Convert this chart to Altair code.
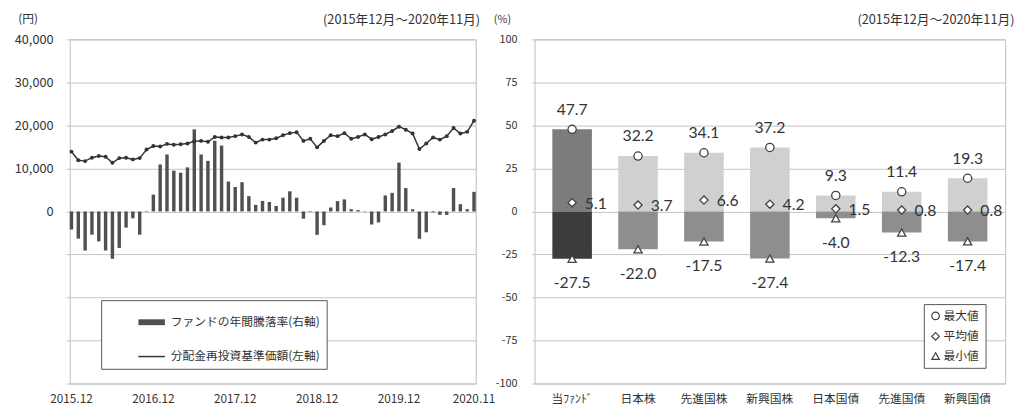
import altair as alt
import pandas as pd

FONT = "Noto Sans CJK JP"
NUMFONT = "Lato"
TXT = "#333333"
GRID = "#c4c4c4"

# ---------------- left panel data ----------------
months = ["2015.12"] + [f"{2016 + k // 12}.{k % 12 + 1:02d}" for k in range(59)]
tick_labels = ["2015.12", "2016.12", "2017.12", "2018.12", "2019.12", "2020.11"]

fund_return = [
    -10.5, -15.8, -22.7, -13.5, -17.4, -22.7, -27.5, -21.2, -9.4, -4.0, -13.5, 0.3,
    9.8, 27.3, 33.1, 23.7, 22.5, 25.6, 47.7, 33.1, 29.4, 41.1, 38.3,
    17.4, 14.2, 17.0, 8.9, 3.8, 6.1, 5.5, 3.2, 8.0, 11.7, 8.0,
    -4.2, -0.3, -13.6, -8.0, 2.3, 6.0, 7.0, 1.3, 0.8, 0.2, -7.6, -6.4,
    9.3, 10.8, 28.4, 13.6, 1.3, -15.9, -12.1, -0.5, -2.0, -2.0, 13.6, 4.2, 1.3, 11.4,
]
nav = [
    13900, 11900, 11700, 12500, 12900, 12700, 11300, 12400, 12500, 12100, 12400, 14400,
    15200, 15100, 15700, 15500, 15600, 15800, 16300, 16400, 16200, 17300, 17200,
    17200, 17500, 17900, 17300, 16000, 16700, 16700, 17000, 17700, 18200, 18400,
    16400, 16900, 14900, 16400, 17700, 17500, 18200, 16900, 17300, 17900, 16800, 17300,
    17900, 18700, 19700, 19000, 18100, 14500, 15800, 17200, 16700, 17500, 19400, 18100, 18500, 21100,
]

BAR_LBL = "ファンドの年間騰落率(右軸)"
LINE_LBL = "分配金再投資基準価額(左軸)"
period = "(2015年12月～2020年11月)"

# ---------------- right panel data ----------------
cats = ["当ﾌｧﾝﾄﾞ", "日本株", "先進国株", "新興国株", "日本国債", "先進国債", "新興国債"]
max_v = [47.7, 32.2, 34.1, 37.2, 9.3, 11.4, 19.3]
avg_v = [5.1, 3.7, 6.6, 4.2, 1.5, 0.8, 0.8]
min_v = [-27.5, -22.0, -17.5, -27.4, -4.0, -12.3, -17.4]
stat_names = ["最大値", "平均値", "最小値"]

left_df = pd.DataFrame({"month": months, "ret": fund_return, "nav": nav})
right_df = pd.DataFrame({
    "cat": cats, "max": max_v, "avg": avg_v, "min": min_v,
    "max_s": [f"{v:.1f}" for v in max_v],
    "avg_s": [f"{v:.1f}" for v in avg_v],
    "min_s": [f"{v:.1f}" for v in min_v],
})
stat_df = pd.concat(
    [
        pd.DataFrame({"cat": cats, "stat": stat_names[0], "value": max_v}),
        pd.DataFrame({"cat": cats, "stat": stat_names[1], "value": avg_v}),
        pd.DataFrame({"cat": cats, "stat": stat_names[2], "value": min_v}),
    ],
    ignore_index=True,
)

corner_title = dict(titleAngle=0, titleBaseline="top", titleY=-26, titleFont=FONT,
                    titleFontWeight="normal", titleColor=TXT)

# ---------------- left panel ----------------
color_scale = alt.Scale(domain=[BAR_LBL, LINE_LBL], range=["#505050", "#333333"])
width_scale = alt.Scale(domain=[BAR_LBL, LINE_LBL], range=[6, 1.5])
left_legend = alt.Legend(
    title=None, orient="none", legendX=32, legendY=266,
    symbolType="stroke", symbolSize=729, symbolStrokeColor="#444444",
    symbolOffset=29, labelFont=FONT, labelFontSize=12, labelColor=TXT,
    labelOffset=3, rowPadding=8, padding=6,
    strokeColor="#555555", fillColor="white",
)

x_left = alt.X(
    "month:N", sort=months,
    scale=alt.Scale(paddingInner=0.5, paddingOuter=0),
    axis=alt.Axis(values=tick_labels, labelAngle=0, title=None, ticks=False, domain=False,
                  grid=False, labelPadding=10, labelFontSize=12, labelFont=FONT, labelColor=TXT),
)

bars = (
    alt.Chart(left_df)
    .transform_calculate(series=f"'{BAR_LBL}'")
    .mark_bar()
    .encode(
        x=x_left,
        y=alt.Y(
            "ret:Q", scale=alt.Scale(domain=[-100, 100]),
            axis=alt.Axis(orient="right", labels=False, ticks=False, domain=False, grid=False,
                          title=period, titleAlign="right", titleX=4, titleFontSize=13,
                          **corner_title),
        ),
        color=alt.Color("series:N", scale=color_scale, legend=left_legend),
        strokeWidth=alt.StrokeWidth("series:N", scale=width_scale, legend=left_legend),
    )
)

line = (
    alt.Chart(left_df)
    .transform_calculate(series=f"'{LINE_LBL}'")
    .mark_line(point=alt.OverlayMarkDef(filled=True, size=16, opacity=1))
    .encode(
        x=x_left,
        y=alt.Y(
            "nav:Q",
            scale=alt.Scale(domain=[-40000, 40000]),
            axis=alt.Axis(
                orient="left", values=list(range(-40000, 40001, 10000)), format=",d",
                labelExpr="datum.value < 0 ? '' : datum.label",
                title="(円)", titleAlign="left", titleX=-53, titleFontSize=12, **corner_title,
                labelFont=FONT, labelFontSize=13, labelColor=TXT, labelPadding=13,
                tickSize=4, tickColor=GRID, domain=False, grid=True,
            ),
        ),
        color=alt.Color("series:N", scale=color_scale, legend=left_legend),
        strokeWidth=alt.StrokeWidth("series:N", scale=width_scale, legend=left_legend),
    )
)

left = alt.layer(bars, line).resolve_scale(y="independent").properties(width=414, height=351)

# ---------------- right panel ----------------
x_right = alt.X(
    "cat:N", sort=cats,
    scale=alt.Scale(paddingInner=0.4, paddingOuter=0.27),
    axis=alt.Axis(labelAngle=0, title=None, ticks=False, domain=False, grid=False,
                  labelPadding=10, labelFontSize=12, labelFont=FONT, labelColor=TXT),
)
y_scale_r = alt.Scale(domain=[-100, 100])
is_fund = alt.datum.cat == cats[0]

pos_bar = alt.Chart(right_df).mark_bar().encode(
    x=x_right,
    y=alt.Y(
        "max:Q", scale=y_scale_r,
        axis=alt.Axis(
            values=list(range(-100, 101, 25)), labelExpr="replace(datum.label, '−', '-')",
            title="(%)", titleAlign="left", titleX=-42, titleFontSize=11, **corner_title,
            labelFont=FONT, labelFontSize=11, labelColor=TXT, labelPadding=15,
            tickSize=3, tickColor=GRID, domain=False, grid=True,
        ),
    ),
    color=alt.condition(is_fund, alt.value("#7c7c7c"), alt.value("#d0d0d0")),
)
neg_bar = alt.Chart(right_df).mark_bar().encode(
    x=x_right,
    y=alt.Y("min:Q", scale=y_scale_r),
    color=alt.condition(is_fund, alt.value("#3c3c3c"), alt.value("#8e8e8e")),
)
stat_legend = alt.Legend(
    title=None, orient="none", legendX=397, legendY=270,
    symbolSize=60, symbolStrokeWidth=1.2, symbolFillColor="white",
    labelFont=FONT, labelFontSize=12, labelColor=TXT,
    labelOffset=2, rowPadding=7, padding=6, strokeColor="#555555", fillColor="white",
)
pts = alt.Chart(stat_df).mark_point(
    filled=False, fill="white", strokeWidth=1.3, size=70, opacity=1
).encode(
    x=x_right,
    y=alt.Y("value:Q", scale=y_scale_r),
    color=alt.Color("stat:N", scale=alt.Scale(domain=stat_names, range=["#404040"] * 3),
                    legend=stat_legend),
    shape=alt.Shape(
        "stat:N",
        scale=alt.Scale(domain=stat_names, range=["circle", "diamond", "triangle-up"]),
        legend=stat_legend,
    ),
)
lab_style = dict(font=NUMFONT, fontSize=16, color=TXT)
max_t = alt.Chart(right_df).mark_text(dy=-20, baseline="middle", **lab_style).encode(
    x=x_right, y=alt.Y("max:Q", scale=y_scale_r), text="max_s:N")
avg_t = alt.Chart(right_df).mark_text(dx=13, dy=1, align="left", baseline="middle", **lab_style).encode(
    x=x_right, y=alt.Y("avg:Q", scale=y_scale_r), text="avg_s:N")
min_t = alt.Chart(right_df).mark_text(dy=25, baseline="middle", **lab_style).encode(
    x=x_right,
    y=alt.Y(
        "min:Q", scale=y_scale_r,
        axis=alt.Axis(orient="right", labels=False, ticks=False, domain=False, grid=False,
                      title=period, titleAlign="right", titleX=9, titleFontSize=13,
                      **corner_title),
    ),
    text="min_s:N",
)

right_main = alt.layer(pos_bar, neg_bar, pts, max_t, avg_t)
right = (
    alt.layer(right_main, min_t)
    .resolve_scale(y="independent")
    .properties(width=480, height=351)
)

chart = (
    alt.hconcat(left, right, spacing=60, bounds="flush")
    .resolve_scale(color="independent", shape="independent", strokeWidth="independent")
    .properties(padding={"left": 5, "top": 0, "right": 0, "bottom": 0})
    .configure_view(stroke="#bdbdbd", strokeWidth=1)
    .configure_axis(gridColor=GRID, gridWidth=1)
)

chart.save("out.html", embed_options={"renderer": "svg", "actions": False})
